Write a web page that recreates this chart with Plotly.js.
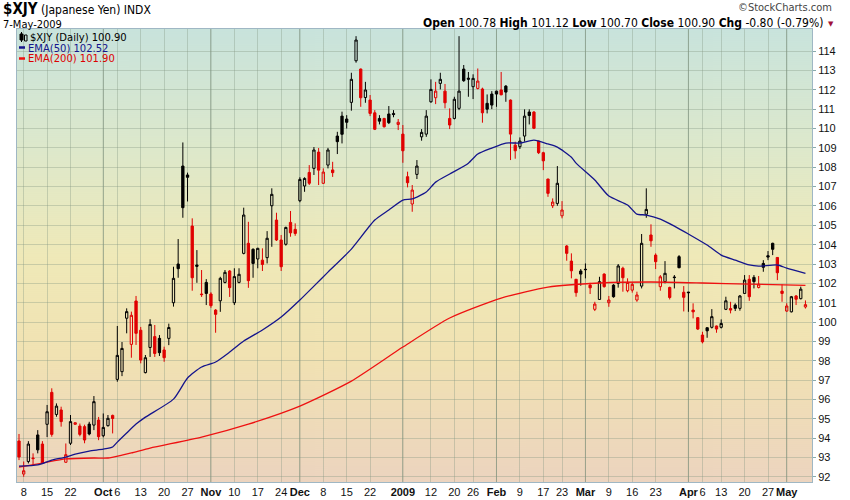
<!DOCTYPE html>
<html><head><meta charset="utf-8">
<script src="https://cdn.plot.ly/plotly-3.0.1.min.js"></script>
<style>body{margin:0;background:#fff}#c{width:850px;height:500px}</style>
</head><body><div id="c"></div>
<script>
const dates = ["2008-09-05","2008-09-08","2008-09-09","2008-09-10","2008-09-11","2008-09-12","2008-09-15","2008-09-16","2008-09-17","2008-09-18","2008-09-19","2008-09-22","2008-09-23","2008-09-24","2008-09-25","2008-09-26","2008-09-29","2008-09-30",
"2008-10-01","2008-10-02","2008-10-03","2008-10-06","2008-10-07","2008-10-08","2008-10-09","2008-10-10","2008-10-13","2008-10-14","2008-10-15","2008-10-16","2008-10-17","2008-10-20","2008-10-21","2008-10-22","2008-10-23","2008-10-24","2008-10-27","2008-10-28","2008-10-29","2008-10-30","2008-10-31",
"2008-11-03","2008-11-04","2008-11-05","2008-11-06","2008-11-07","2008-11-10","2008-11-11","2008-11-12","2008-11-13","2008-11-14","2008-11-17","2008-11-18","2008-11-19","2008-11-20","2008-11-21","2008-11-24","2008-11-25","2008-11-26","2008-11-28",
"2008-12-01","2008-12-02","2008-12-03","2008-12-04","2008-12-05","2008-12-08","2008-12-09","2008-12-10","2008-12-11","2008-12-12","2008-12-15","2008-12-16","2008-12-17","2008-12-18","2008-12-19","2008-12-22","2008-12-23","2008-12-24","2008-12-26","2008-12-29","2008-12-30","2008-12-31",
"2009-01-02","2009-01-05","2009-01-06","2009-01-07","2009-01-08","2009-01-09","2009-01-12","2009-01-13","2009-01-14","2009-01-15","2009-01-16","2009-01-20","2009-01-21","2009-01-22","2009-01-23","2009-01-26","2009-01-27","2009-01-28","2009-01-29","2009-01-30",
"2009-02-02","2009-02-03","2009-02-04","2009-02-05","2009-02-06","2009-02-09","2009-02-10","2009-02-11","2009-02-12","2009-02-13","2009-02-17","2009-02-18","2009-02-19","2009-02-20","2009-02-23","2009-02-24","2009-02-25","2009-02-26","2009-02-27",
"2009-03-02","2009-03-03","2009-03-04","2009-03-05","2009-03-06","2009-03-09","2009-03-10","2009-03-11","2009-03-12","2009-03-13","2009-03-16","2009-03-17","2009-03-18","2009-03-19","2009-03-20","2009-03-23","2009-03-24","2009-03-25","2009-03-26","2009-03-27","2009-03-30","2009-03-31",
"2009-04-01","2009-04-02","2009-04-03","2009-04-06","2009-04-07","2009-04-08","2009-04-09","2009-04-13","2009-04-14","2009-04-15","2009-04-16","2009-04-17","2009-04-20","2009-04-21","2009-04-22","2009-04-23","2009-04-24","2009-04-27","2009-04-28","2009-04-29","2009-04-30",
"2009-05-01","2009-05-04","2009-05-05","2009-05-06","2009-05-07"];

const openP = [93.86,92.15,92.80,92.98,94.17,93.70,94.72,96.37,95.23,95.46,92.76,93.74,94.72,94.63,94.60,94.73,94.68,94.94,
94.13,94.65,95.18,97.04,97.44,100.20,98.85,101.09,99.58,97.39,98.69,99.25,99.16,98.56,99.16,101.00,103.00,108.06,107.60,104.96,102.95,101.45,102.05,
101.45,100.62,101.10,102.05,102.64,101.00,102.05,103.55,104.07,103.76,103.26,103.20,103.33,106.01,105.27,104.24,104.02,105.15,104.79,
106.27,107.03,107.73,107.94,108.78,107.17,108.11,107.86,109.61,110.64,110.49,111.35,113.50,113.07,111.60,111.47,110.81,110.52,110.52,110.75,110.78,110.21,
109.71,107.51,106.10,107.63,109.57,109.71,111.38,111.59,112.33,111.93,110.52,110.52,111.04,113.07,112.60,112.16,112.07,112.04,111.30,111.78,
111.93,111.99,112.19,111.47,109.14,109.06,109.61,110.85,110.85,109.35,108.75,107.39,106.01,106.13,105.49,103.93,103.15,102.21,102.64,
102.73,101.91,100.66,101.17,102.48,101.00,101.91,102.00,102.78,101.62,101.65,101.14,101.86,105.57,104.50,103.46,101.83,102.09,101.79,102.33,103.38,101.54,
101.55,100.62,100.23,99.33,99.71,99.73,99.80,99.73,100.66,100.70,100.88,100.71,101.48,102.21,102.31,101.79,103.03,103.43,104.07,103.34,101.60,
100.57,100.53,101.35,101.21,100.78];

const highP = [94.22,92.80,93.85,93.22,94.42,93.85,95.72,96.58,95.80,95.63,93.73,95.20,94.82,94.76,94.70,94.85,96.18,95.10,
95.28,95.20,95.22,99.80,98.97,100.71,100.54,101.35,99.75,98.30,100.15,99.85,99.33,98.73,99.92,102.86,104.29,109.28,107.72,105.36,103.72,102.69,102.22,
101.54,100.67,102.34,102.69,102.69,102.78,102.78,105.91,105.18,103.81,103.84,103.81,104.70,106.91,105.65,104.50,104.93,105.74,105.10,
107.48,107.48,108.11,109.04,108.99,107.94,109.00,108.28,109.83,110.87,110.69,112.88,114.77,113.10,112.41,111.73,110.95,110.69,110.55,111.16,110.95,110.49,
110.18,107.77,107.08,108.37,109.97,110.95,112.54,112.41,112.88,112.30,111.04,111.64,114.77,113.28,112.92,112.80,113.10,112.11,111.76,111.93,
111.95,112.92,112.24,111.50,109.32,109.54,110.99,110.99,110.90,109.37,108.80,107.40,106.39,108.06,106.25,103.98,103.55,102.23,102.74,
103.03,102.03,101.05,102.34,102.52,101.35,101.96,103.00,102.86,102.26,102.03,101.57,104.55,106.91,105.05,103.55,102.43,103.15,101.83,102.43,103.46,101.86,
101.56,100.97,100.25,99.50,99.72,100.67,99.82,100.14,101.31,101.05,100.97,101.40,102.43,102.43,102.43,102.38,103.20,103.67,104.10,103.36,101.95,
100.97,101.35,101.40,101.83,101.12];

const lowP = [92.87,92.01,92.70,92.61,93.22,92.68,94.06,94.08,95.11,94.60,92.74,93.65,94.70,94.10,93.74,94.15,94.42,93.90,
94.05,94.60,94.25,96.92,97.21,99.42,98.16,98.82,97.87,97.35,98.20,98.20,98.25,97.95,98.81,100.80,102.29,105.39,106.23,101.62,102.03,101.30,100.88,
100.74,99.45,100.53,102.00,101.30,100.88,102.00,103.50,101.77,102.29,102.78,102.64,103.03,103.89,104.19,102.64,103.95,104.41,104.46,
106.19,106.73,107.08,107.60,107.08,107.13,107.94,107.50,108.68,109.23,110.00,110.92,113.40,111.12,111.33,110.64,109.92,110.21,110.05,110.23,110.58,109.92,
108.23,106.96,105.70,107.39,109.37,109.57,111.33,111.26,112.02,111.04,109.97,110.47,110.95,112.41,111.64,111.52,112.02,110.30,110.78,111.00,
111.12,111.72,111.38,108.37,108.44,108.94,109.32,110.21,109.97,108.68,107.85,106.47,105.89,106.01,105.36,103.17,102.26,101.31,101.88,
102.26,101.45,100.57,101.14,101.78,100.79,101.26,101.78,101.57,101.54,101.52,101.05,101.74,105.39,103.89,102.74,101.62,102.00,101.17,101.74,102.78,100.55,
100.53,100.19,99.59,98.90,99.19,99.67,99.45,99.67,100.62,100.45,100.57,100.59,101.45,101.10,101.74,101.74,102.60,103.20,103.46,102.17,101.05,
100.53,100.50,100.88,101.17,100.70];

const closeP = [93.03,92.32,93.70,92.95,93.40,92.72,95.37,94.20,95.66,94.86,93.15,94.86,94.80,94.20,93.91,94.22,95.89,94.08,
94.56,95.03,95.02,98.28,98.64,100.54,100.35,99.42,98.04,98.16,99.88,98.38,98.42,98.16,99.72,102.26,102.76,105.91,107.48,102.29,102.88,101.42,101.48,
100.85,100.40,102.26,102.57,101.78,102.35,102.47,105.53,102.14,103.03,103.81,102.98,104.33,106.60,104.24,102.86,104.89,104.61,104.58,
107.37,107.42,107.17,108.89,107.85,107.75,108.89,107.72,109.32,109.70,110.32,112.54,114.57,111.59,111.99,110.78,109.96,110.38,110.09,110.30,110.72,110.32,
108.85,107.20,106.82,108.06,109.80,110.64,112.02,111.93,112.54,111.33,110.18,111.51,111.93,112.47,112.55,112.59,112.45,110.81,111.00,111.21,
111.78,111.74,111.88,109.71,108.85,109.35,110.64,110.67,110.01,108.75,108.33,106.65,106.20,107.17,105.79,103.55,102.65,101.52,102.48,
102.71,101.77,100.93,102.09,101.83,101.14,101.31,102.90,102.29,102.05,101.95,101.40,104.07,105.82,104.20,103.12,102.34,102.52,101.27,102.30,102.81,101.28,
101.52,100.53,99.64,98.98,99.55,100.28,99.64,99.93,101.10,100.62,100.71,101.35,102.17,101.31,102.09,101.96,102.83,103.36,103.76,102.55,101.48,
100.83,101.31,101.18,101.70,100.90];

const ema50Dates = ["2008-09-05","2008-09-11","2008-09-16","2008-09-19","2008-09-23","2008-09-26","2008-10-01","2008-10-03","2008-10-06","2008-10-08","2008-10-10","2008-10-14","2008-10-22","2008-10-27","2008-10-30","2008-11-04","2008-11-07","2008-11-12","2008-11-18","2008-11-24","2008-12-01","2008-12-04","2008-12-09","2008-12-16","2008-12-23","2008-12-29","2009-01-02","2009-01-06","2009-01-09","2009-01-13","2009-01-16","2009-01-23","2009-01-27","2009-01-30","2009-02-04","2009-02-09","2009-02-12","2009-02-18","2009-02-20","2009-02-25","2009-02-26","2009-03-04","2009-03-09","2009-03-13","2009-03-17","2009-03-19","2009-03-24","2009-03-27","2009-04-01","2009-04-07","2009-04-13","2009-04-16","2009-04-21","2009-04-23","2009-04-29","2009-05-01","2009-05-07"];
const ema50Vals = [92.56,92.62,92.87,93.03,93.18,93.34,93.44,93.55,93.80,94.27,94.73,95.09,96.02,97.11,97.68,97.94,98.45,99.02,99.59,100.26,101.14,101.86,102.58,103.77,105.27,105.79,106.30,106.36,106.72,107.23,107.65,108.21,108.68,108.99,109.25,109.25,109.40,109.20,109.04,108.52,108.21,107.34,106.51,106.05,105.58,105.53,105.32,104.96,104.55,103.98,103.46,103.20,102.95,102.89,102.95,102.79,102.52];

const ema200Dates = ["2008-09-05","2008-09-12","2008-09-19","2008-09-29","2008-10-02","2008-10-07","2008-10-09","2008-10-15","2008-10-30","2008-11-13","2008-12-01","2008-12-16","2009-01-02","2009-01-16","2009-02-03","2009-02-18","2009-03-05","2009-03-20","2009-04-06","2009-04-21","2009-05-07"];
const ema200Vals = [92.51,92.72,92.93,92.98,92.98,93.13,93.24,93.49,94.06,94.73,95.66,96.95,98.71,100.21,101.24,101.81,102.02,102.07,102.02,101.96,101.90];

const tickDates = ["2008-09-08","2008-09-15","2008-09-22","2008-10-01","2008-10-06","2008-10-13","2008-10-20","2008-10-27","2008-11-03","2008-11-10","2008-11-17","2008-11-24","2008-12-01","2008-12-08","2008-12-15","2008-12-22","2009-01-02","2009-01-12","2009-01-20","2009-01-26","2009-02-02","2009-02-09","2009-02-17","2009-02-23","2009-03-02","2009-03-09","2009-03-16","2009-03-23","2009-04-01","2009-04-06","2009-04-13","2009-04-20","2009-04-27","2009-05-01"];
const tickLabels = ["8","15","22","Oct","6","13","20","27","Nov","10","17","24","Dec","8","15","22","2009","12","20","26","Feb","9","17","23","Mar","9","16","23","Apr","6","13","20","27","May"];
const monthTicks = ["Oct","Nov","Dec","2009","Feb","Mar","Apr","May"];
const priceTicks = [92,93,94,95,96,97,98,99,100,101,102,103,104,105,106,107,108,109,110,111,112,113,114];

// split by colour: black when close >= previous close, red otherwise
const blk = {x:[],open:[],high:[],low:[],close:[]}, red = {x:[],open:[],high:[],low:[],close:[]};
for (let i=0;i<dates.length;i++){
  const up = i>0 && closeP[i] >= closeP[i-1];
  const g = up ? blk : red;
  g.x.push(dates[i]); g.open.push(openP[i]); g.high.push(highP[i]); g.low.push(lowP[i]); g.close.push(closeP[i]);
}
const RED = '#e00000', NAVY = '#14148c';
function cs(g,col){
  return Object.assign({type:'candlestick', xaxis:'x', yaxis:'y', whiskerwidth:0, hoverinfo:'skip', showlegend:false,
    increasing:{line:{color:col,width:1}, fillcolor:'rgba(0,0,0,0)'},
    decreasing:{line:{color:col,width:1}, fillcolor:col}}, g);
}
const traces = [
  {type:'scatter', mode:'lines', x:ema200Dates, y:ema200Vals, line:{color:'#ee1111', width:1.3, shape:'spline', smoothing:0.6}, hoverinfo:'skip', showlegend:false},
  {type:'scatter', mode:'lines', x:ema50Dates, y:ema50Vals, line:{color:NAVY, width:1.3, shape:'spline', smoothing:0.6}, hoverinfo:'skip', showlegend:false},
  cs(blk,'#000000'), cs(red,RED)
];

// gradient background image
const cv = document.createElement('canvas'); cv.width = 4; cv.height = 453;
const cx = cv.getContext('2d');
const gr = cx.createLinearGradient(0,0,0,453);
gr.addColorStop(0,'#c8e3dc'); gr.addColorStop(0.25,'#dce8cc'); gr.addColorStop(0.5,'#efe9b8');
gr.addColorStop(0.72,'#f1e2b2'); gr.addColorStop(1,'#ecd4bf');
cx.fillStyle = gr; cx.fillRect(0,0,4,453);
const bgURL = cv.toDataURL('image/png');

const L=17, T=29, W=795, H=453;
const px = v => (v-L)/W, py = v => 1-(v-T)/H;

const shapes = [];
['2008-10-01','2008-11-03','2008-12-01','2009-01-02','2009-02-02','2009-03-02','2009-04-01','2009-05-01'].forEach(d=>{
  shapes.push({type:'line', xref:'x', yref:'paper', x0:d, x1:d, y0:0, y1:1, layer:'below', line:{color:'rgba(110,130,110,0.55)', width:1}});
});
shapes.push({type:'rect', xref:'paper', yref:'paper', x0:px(20), x1:px(23), y0:py(40), y1:py(34), fillcolor:'#000', line:{color:'#000',width:1}});
shapes.push({type:'line', xref:'paper', yref:'paper', x0:px(21.5), x1:px(21.5), y0:py(42), y1:py(32), line:{color:'#000',width:1}});
shapes.push({type:'rect', xref:'paper', yref:'paper', x0:px(24.5), x1:px(27), y0:py(41), y1:py(35), fillcolor:'rgba(0,0,0,0)', line:{color:'#000',width:1}});
shapes.push({type:'line', xref:'paper', yref:'paper', x0:px(19), x1:px(25), y0:py(47.5), y1:py(47.5), line:{color:NAVY,width:2.5}});
shapes.push({type:'line', xref:'paper', yref:'paper', x0:px(19), x1:px(25), y0:py(58.5), y1:py(58.5), line:{color:'#ee1111',width:2.5}});

const lf = {family:'DejaVu Sans, Verdana, sans-serif', size:10};
const hf = 'Liberation Sans Narrow, DejaVu Sans Condensed, Arial Narrow, Liberation Sans, sans-serif';
const annotations = [
  {xref:'paper', yref:'paper', x:px(28), y:py(37.5), xanchor:'left', yanchor:'middle', showarrow:false, text:'$XJY (Daily) 100.90', font:Object.assign({color:'#000'},lf)},
  {xref:'paper', yref:'paper', x:px(26), y:py(48), xanchor:'left', yanchor:'middle', showarrow:false, text:'EMA(50) 102.52', font:Object.assign({color:NAVY},lf)},
  {xref:'paper', yref:'paper', x:px(26), y:py(58.5), xanchor:'left', yanchor:'middle', showarrow:false, text:'EMA(200) 101.90', font:Object.assign({color:'#dd0000'},lf)},
  {xref:'paper', yref:'paper', x:px(2), y:py(8.5), xanchor:'left', yanchor:'middle', showarrow:false, borderpad:0,
   text:'<b><span style="font-size:15px">$XJY</span></b> <span style="font-size:12px">(Japanese Yen) INDX</span>', font:{family:hf, size:12, color:'#000'}},
  {xref:'paper', yref:'paper', x:px(2), y:py(25), xanchor:'left', yanchor:'middle', showarrow:false, borderpad:0, text:'7-May-2009', font:{family:hf, size:11, color:'#000'}},
  {xref:'paper', yref:'paper', x:px(834), y:py(8), xanchor:'right', yanchor:'middle', showarrow:false, text:'©StockCharts.com', font:{family:hf, size:11, color:'#444'}},
  {xref:'paper', yref:'paper', x:px(825), y:py(23), xanchor:'right', yanchor:'middle', showarrow:false,
   text:'<b>Open</b> 100.78 <b>High</b> 101.12 <b>Low</b> 100.70 <b>Close</b> 100.90 <b>Chg</b> -0.80 (-0.79%)', font:{family:hf, size:12, color:'#000'}},
  {xref:'paper', yref:'paper', x:px(836), y:py(24), xanchor:'right', yanchor:'middle', showarrow:false, text:'▼', font:{family:'DejaVu Sans', size:7, color:'#a0103a'}}
];

const layout = {
  width:850, height:500, margin:{l:L, r:850-L-W, t:T, b:500-T-H},
  paper_bgcolor:'#ffffff', plot_bgcolor:'rgba(0,0,0,0)',
  showlegend:false, dragmode:false,
  images:[{source:bgURL, xref:'paper', yref:'paper', x:0, y:1, sizex:1, sizey:1, sizing:'stretch', layer:'below'}],
  xaxis:{type:'category', categoryorder:'array', categoryarray:dates, range:[-0.43,169.4],
    rangeslider:{visible:false}, tickmode:'array', tickvals:tickDates,
    ticktext:tickLabels.map(t=>monthTicks.includes(t)?'<b>'+t+'</b>':t),
    tickfont:{family:'Liberation Sans, Arial, sans-serif', size:11, color:'#111'}, ticks:'', tickangle:0,
    showgrid:true, gridcolor:'rgba(130,150,130,0.35)', gridwidth:1,
    showline:true, linecolor:'#9fb7c4', linewidth:1, mirror:true, zeroline:false, fixedrange:true},
  yaxis:{side:'right', range:[91.74,115.14], tickmode:'array', tickvals:priceTicks, ticktext:priceTicks.map(String),
    ticks:'outside', ticklen:3, tickcolor:'#8aa',
    tickfont:{family:'Liberation Sans, Arial, sans-serif', size:11, color:'#111'},
    showgrid:true, gridcolor:'rgba(130,150,130,0.35)', gridwidth:1,
    showline:true, linecolor:'#9fb7c4', linewidth:1, mirror:true, zeroline:false, fixedrange:true},
  shapes:shapes, annotations:annotations
};
Plotly.newPlot('c', traces, layout, {staticPlot:true, displayModeBar:false});
</script></body></html>
